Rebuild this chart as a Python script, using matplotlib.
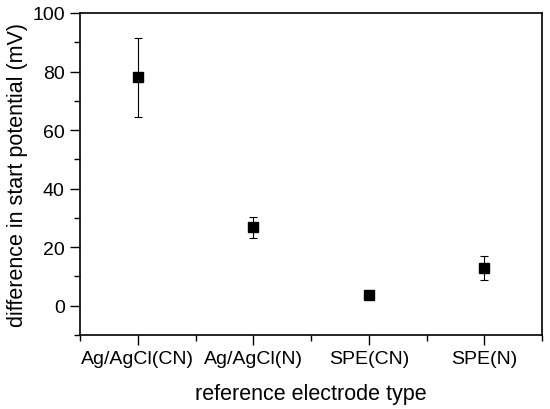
import matplotlib.pyplot as plt
from matplotlib.ticker import MultipleLocator, FixedLocator

plt.rcParams["font.family"] = ["Liberation Sans", "DejaVu Sans"]

electrodes = ["Ag/AgCl(CN)", "Ag/AgCl(N)", "SPE(CN)", "SPE(N)"]
diff_mv = [78.0, 26.8, 3.8, 13.0]
err_mv = [13.4, 3.6, 0.6, 4.1]

fig = plt.figure(figsize=(5.5, 4.1), dpi=100)
ax = fig.add_axes([80 / 550, 1 - 336 / 410, 462 / 550, 322 / 410])

x = list(range(len(electrodes)))
ax.errorbar(x, diff_mv, yerr=err_mv, fmt="s", color="black", markersize=6.5,
            ecolor="black", elinewidth=0.8, capsize=3, capthick=0.8)

ax.set_xlim(-0.5, len(electrodes) - 0.5)
ax.set_ylim(-10, 100)
ax.set_xticks(x)
ax.set_xticklabels(electrodes)
ax.xaxis.set_minor_locator(FixedLocator([i - 0.5 for i in x] + [len(x) - 0.5]))
ax.yaxis.set_major_locator(MultipleLocator(20))
ax.yaxis.set_minor_locator(MultipleLocator(10))

ax.tick_params(which="both", direction="out", top=False, right=False,
               labelsize=14, width=1)
ax.tick_params(which="major", length=7, pad=4)
ax.tick_params(which="minor", length=4)
for sp in ax.spines.values():
    sp.set_linewidth(1.2)

ax.set_xlabel("reference electrode type", fontsize=15.5, labelpad=11)
ax.set_ylabel("difference in start potential (mV)", fontsize=15.5, labelpad=3)

plt.savefig("out.png", dpi=100)
